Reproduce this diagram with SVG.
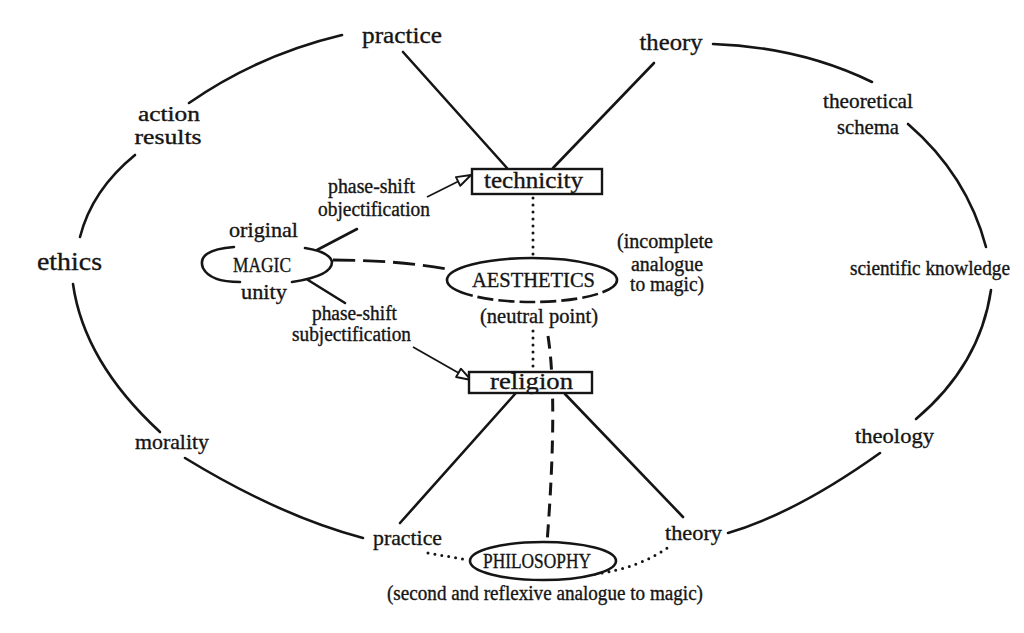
<svg xmlns="http://www.w3.org/2000/svg" width="1024" height="633" viewBox="0 0 1024 633">
<style>
.t{font-family:"Liberation Serif","Times New Roman",serif;fill:#151515;stroke:#151515;stroke-width:0.35;text-anchor:middle}
.ln{fill:none;stroke:#151515;stroke-width:2.6;stroke-linecap:round}
.arc{fill:none;stroke:#151515;stroke-width:2.6;stroke-linecap:round}
.dot{fill:none;stroke:#151515;stroke-width:3;stroke-linecap:round;stroke-dasharray:0 7}
.dash{fill:none;stroke:#151515;stroke-width:2.8;stroke-dasharray:22 8}
.vdash{fill:none;stroke:#151515;stroke-width:3;stroke-dasharray:13 8}
.box{fill:#fff;stroke:#151515;stroke-width:2.4}
.ell{fill:#fff;stroke:#151515;stroke-width:2.6}
.thin{fill:none;stroke:#151515;stroke-width:1.8}
</style>
<defs>
<marker id="open" viewBox="0 0 14 10" refX="13" refY="5" markerWidth="17" markerHeight="12" markerUnits="userSpaceOnUse" orient="auto">
<path d="M1,1 L13,5 L1,9 Z" fill="#fff" stroke="#151515" stroke-width="1.6" stroke-linejoin="round"/>
</marker>
</defs>
<rect width="1024" height="633" fill="#fff"/>

<g id="connectors">
<path class="arc" d="M342,35 Q258,55 189,103"/>
<path class="arc" d="M135,155 Q92,190 80,237"/>
<path class="arc" d="M73,284 Q84,362 160,432"/>
<path class="arc" d="M185,458 Q280,516 363,538"/>
<path class="arc" d="M713,44 Q800,47 872,82"/>
<path class="arc" d="M908,124 Q967,175 986,247"/>
<path class="arc" d="M991,290 Q980,365 916,419"/>
<path class="arc" d="M880,453 Q796,513 728,533"/>
<path class="ln" d="M403,52 L507,168"/>
<path class="ln" d="M654,63 L553,168"/>
<path class="ln" d="M515,394 L400,523"/>
<path class="ln" d="M565,394 L683,517"/>
<path class="dot" d="M533,198 L533,256"/>
<path class="dot" d="M533,331 L533,370"/>
<path class="vdash" d="M548,336 Q558,400 547,543"/>
<path class="dash" d="M333,260 Q400,260 452,270"/>
<path class="ln" d="M317,250 L357,229"/>
<path class="ln" d="M308,280 L345,303"/>
<path class="thin" d="M427,197 L471,175" marker-end="url(#open)"/>
<path class="thin" d="M413,347 L471,380" marker-end="url(#open)"/>
<path class="dot" d="M428,553 L468,560"/>
<path class="dot" d="M595,574 Q640,568 670,546"/>
</g>

<g id="node-magic">
<path class="arc" d="M234,247 Q196,250 203,268 Q210,282 240,282"/>
<path class="arc" d="M305,248 Q330,252 332,262 Q332,276 292,282"/>
<text class="t" x="262" y="272" font-size="21" textLength="58" lengthAdjust="spacingAndGlyphs">MAGIC</text>
</g>
<g id="label-original"><text class="t" x="263.5" y="237" font-size="22" textLength="69" lengthAdjust="spacingAndGlyphs">original</text></g>
<g id="label-unity"><text class="t" x="264" y="299" font-size="22" textLength="46" lengthAdjust="spacingAndGlyphs">unity</text></g>

<g id="node-aesthetics">
<path class="ell" d="M447,280 A85,22 0 0 1 617,280"/>
<path fill="none" stroke="#151515" stroke-width="2.6" stroke-dasharray="20 5 16 5 16 5 16 5 16 5 16 5 16 5 40" d="M617,280 A85,22 0 0 1 447,280"/>
<text class="t" x="533.5" y="287" font-size="22" textLength="123" lengthAdjust="spacingAndGlyphs">AESTHETICS</text>
</g>
<g id="label-neutral"><text class="t" x="539" y="323" font-size="21" textLength="118" lengthAdjust="spacingAndGlyphs">(neutral point)</text></g>
<g id="label-incomplete">
<text class="t" x="665" y="248" font-size="20" textLength="96" lengthAdjust="spacingAndGlyphs">(incomplete</text>
<text class="t" x="667" y="271" font-size="20" textLength="72" lengthAdjust="spacingAndGlyphs">analogue</text>
<text class="t" x="667" y="291" font-size="20" textLength="74" lengthAdjust="spacingAndGlyphs">to magic)</text>
</g>

<g id="node-technicity">
<rect class="box" x="472" y="169" width="130" height="25"/>
<text class="t" x="533.5" y="188" font-size="23" textLength="99" lengthAdjust="spacingAndGlyphs">technicity</text>
</g>
<g id="node-religion">
<rect class="box" x="469" y="372" width="123" height="21"/>
<text class="t" x="531.5" y="389" font-size="24" textLength="83" lengthAdjust="spacingAndGlyphs">religion</text>
</g>
<g id="node-philosophy">
<ellipse class="ell" cx="543" cy="561" rx="73" ry="19"/>
<text class="t" x="537" y="568" font-size="21" textLength="108" lengthAdjust="spacingAndGlyphs">PHILOSOPHY</text>
</g>
<g id="label-second"><text class="t" x="545" y="600" font-size="20" textLength="316" lengthAdjust="spacingAndGlyphs">(second and reflexive analogue to magic)</text></g>

<g id="label-objectification">
<text class="t" x="371.5" y="193" font-size="20" textLength="87" lengthAdjust="spacingAndGlyphs">phase-shift</text>
<text class="t" x="374" y="216" font-size="20" textLength="112" lengthAdjust="spacingAndGlyphs">objectification</text>
</g>
<g id="label-subjectification">
<text class="t" x="354.5" y="320" font-size="20" textLength="85" lengthAdjust="spacingAndGlyphs">phase-shift</text>
<text class="t" x="351.5" y="341" font-size="20" textLength="119" lengthAdjust="spacingAndGlyphs">subjectification</text>
</g>

<g id="node-practice-top"><text class="t" x="402" y="43" font-size="24" textLength="80" lengthAdjust="spacingAndGlyphs">practice</text></g>
<g id="node-theory-top"><text class="t" x="671" y="50" font-size="24" textLength="63" lengthAdjust="spacingAndGlyphs">theory</text></g>
<g id="node-action-results">
<text class="t" x="169" y="121" font-size="20" textLength="62" lengthAdjust="spacingAndGlyphs">action</text>
<text class="t" x="168" y="144" font-size="20" textLength="67" lengthAdjust="spacingAndGlyphs">results</text>
</g>
<g id="node-ethics"><text class="t" x="69.5" y="270" font-size="25" textLength="65" lengthAdjust="spacingAndGlyphs">ethics</text></g>
<g id="node-morality"><text class="t" x="172" y="449" font-size="22" textLength="74" lengthAdjust="spacingAndGlyphs">morality</text></g>
<g id="node-practice-bottom"><text class="t" x="407.5" y="545" font-size="22" textLength="69" lengthAdjust="spacingAndGlyphs">practice</text></g>
<g id="node-theory-bottom"><text class="t" x="693.5" y="540" font-size="22" textLength="57" lengthAdjust="spacingAndGlyphs">theory</text></g>
<g id="node-theoretical-schema">
<text class="t" x="868" y="108" font-size="22" textLength="90" lengthAdjust="spacingAndGlyphs">theoretical</text>
<text class="t" x="868" y="134" font-size="22" textLength="62" lengthAdjust="spacingAndGlyphs">schema</text>
</g>
<g id="node-scientific"><text class="t" x="930" y="275" font-size="20" textLength="160" lengthAdjust="spacingAndGlyphs">scientific knowledge</text></g>
<g id="node-theology"><text class="t" x="894.5" y="443" font-size="22" textLength="79" lengthAdjust="spacingAndGlyphs">theology</text></g>
</svg>
